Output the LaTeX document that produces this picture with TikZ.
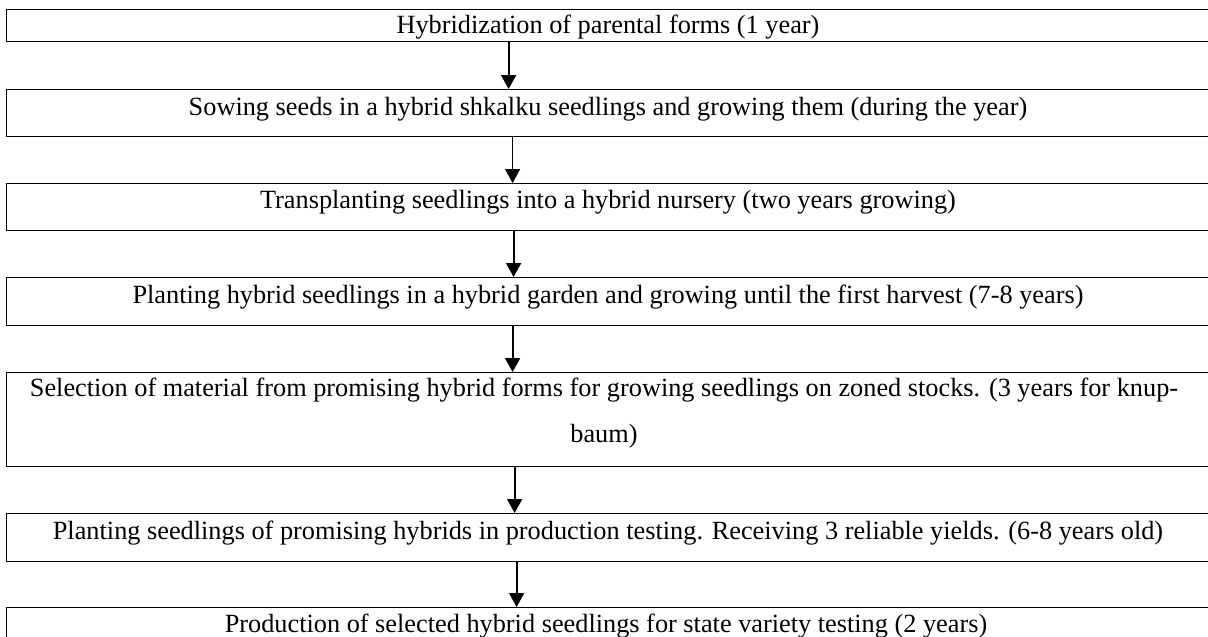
\documentclass[tikz,border=0pt]{standalone}
\usepackage{fontspec}
\setmainfont{Liberation Serif}
\usetikzlibrary{arrows.meta}
\tikzset{
  stepbox/.style={draw=black, line width=1.2pt, minimum width=1203pt, inner sep=0pt, anchor=north west},
  lbl/.style={font=\fontsize{26.3}{46}\selectfont, inner sep=0pt, anchor=base, align=center},
  arr/.style={line width=2pt, -{Triangle[width=15pt,length=14pt]}},
  arrthin/.style={line width=1.3pt, -{Triangle[width=15pt,length=14pt]}}
}
\begin{document}
\begin{tikzpicture}[x=1pt,y=-1pt]
\useasboundingbox (0,0) rectangle (1208,637);
\node[stepbox, minimum height=32pt] (b1) at (6,9) {};
\node[stepbox, minimum height=47pt] (b2) at (6,89) {};
\node[stepbox, minimum height=47pt] (b3) at (6,183) {};
\node[stepbox, minimum height=48pt] (b4) at (6,277) {};
\node[stepbox, minimum height=94pt] (b5) at (6,372) {};
\node[stepbox, minimum height=48pt] (b6) at (6,513) {};
\node[stepbox, minimum height=47pt] (b7) at (6,607) {};
\node[lbl] (t1) at (608,33) {Hybridization of parental forms (1 year)};
\node[lbl] (t2) at (608,115) {Sowing seeds in a hybrid shkalku seedlings and growing them (during the year)};
\node[lbl] (t3) at (608,208) {Transplanting seedlings into a hybrid nursery (two years growing)};
\node[lbl] (t4) at (608,303) {Planting hybrid seedlings in a hybrid garden and growing until the first harvest (7-8 years)};
\node[lbl, anchor=north] (t5) at (604,378) {Selection of material from promising hybrid forms for growing seedlings on zoned stocks. (3 years for knup-\\baum)};
\node[lbl] (t6) at (608,539) {Planting seedlings of promising hybrids in production testing. Receiving 3 reliable yields. (6-8 years old)};
\node[lbl] (t7) at (606,632) {Production of selected hybrid seedlings for state variety testing (2 years)};
\draw[arr] ([xshift=-99.5pt]b1.south) -- ([xshift=-99.5pt]b2.north);
\draw[arrthin] ([xshift=-95.5pt]b2.south) -- ([xshift=-95.5pt]b3.north);
\draw[arr] ([xshift=-94.5pt]b3.south) -- ([xshift=-94.5pt]b4.north);
\draw[arr] ([xshift=-95.5pt]b4.south) -- ([xshift=-95.5pt]b5.north);
\draw[arr] ([xshift=-93.5pt]b5.south) -- ([xshift=-93.5pt]b6.north);
\draw[arr] ([xshift=-91.5pt]b6.south) -- ([xshift=-91.5pt]b7.north);
\end{tikzpicture}
\end{document}
